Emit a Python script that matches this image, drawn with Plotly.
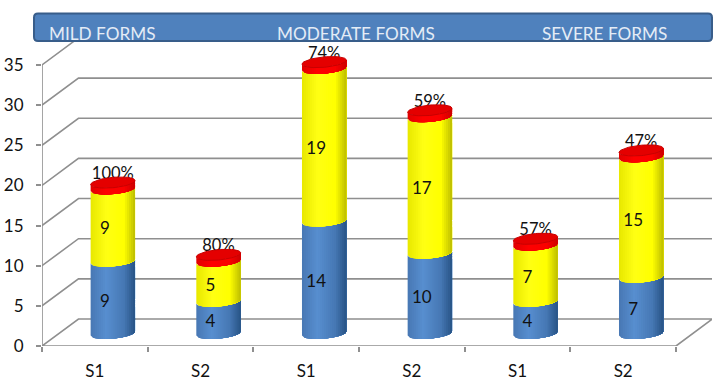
import numpy as np
import plotly.graph_objects as go

categories = ["S1", "S2", "S1", "S2", "S1", "S2"]
blue_values = [9, 4, 14, 10, 4, 7]
yellow_values = [9, 5, 19, 17, 7, 15]
cap_values = [0.8, 0.8, 0.8, 0.8, 0.8, 0.8]
percent_labels = ["100%", "80%", "74%", "59%", "57%", "47%"]
y_ticks = [0, 5, 10, 15, 20, 25, 30, 35]
group_titles = ["MILD FORMS", "MODERATE FORMS", "SEVERE FORMS"]
group_title_px = [102, 356, 604]

W, H = 722, 385
L, R, T, B = 41.5, 712, 38, 346
PX_X = 105.75      # pixels per category
PX_Y = 8.03        # pixels per value unit
xr = [-0.5, -0.5 + (R - L) / PX_X]
yr = [0, (B - T) / PX_Y]
DX = 36.5 / PX_X   # back-wall depth
DY = 27 / PX_Y
BAR_DX = 18 / PX_X
BAR_DY = 12.5 / PX_Y
HW = 22.2 / PX_X
ARC = 5.2 / PX_Y
TILT = 2.0 / PX_Y
GRID = "#8f8f8f"

fig = go.Figure()


def line(xs, ys):
    fig.add_trace(go.Scatter(x=xs, y=ys, mode="lines", line=dict(color=GRID, width=1.6),
                             hoverinfo="skip", showlegend=False, cliponaxis=False))


X0, X1 = -0.5, 5.5
for v in y_ticks:
    if v == 0:
        continue
    line([X0, X0 + DX, xr[1]], [v, v + DY, v + DY])
line([X0, X1, X1 + DX, X0 + DX, X0], [0, 0, DY, DY, 0])
line([X0, X0], [0, 35])

us = np.linspace(-1, 1, 41)


def arc(c, base, u):
    return c + HW * u, base - ARC * np.sqrt(np.clip(1 - u ** 2, 0, 1)) + TILT * u


def mix(a, b, f):
    return tuple(a[i] + (b[i] - a[i]) * f for i in range(3))


def shade(u, edge, mid, light, dark):
    h = -0.3
    if u < h:
        c = mix(edge, light, (u + 1) / (h + 1))
    elif u < 0.5:
        c = mix(light, mid, (u - h) / (0.5 - h))
    else:
        c = mix(mid, dark, (u - 0.5) / 0.5)
    return "rgb(%d,%d,%d)" % c


def cylinder(bottoms, tops, palette, n=22):
    for k in range(n):
        uk = -1 + 2 * k / n
        xs, ys = [], []
        for i in range(len(bottoms)):
            c = i + BAR_DX
            u = us[us >= uk]
            u = np.concatenate([[uk], u])
            x0, y0 = arc(c, bottoms[i] + BAR_DY, u)
            x1, y1 = arc(c, tops[i] + BAR_DY, u[::-1])
            xs += list(x0) + list(x1) + [x0[0], None]
            ys += list(y0) + list(y1) + [y0[0], None]
        fig.add_trace(go.Scatter(x=xs, y=ys, mode="lines", fill="toself",
                                 fillcolor=shade(uk + 1 / n, *palette),
                                 line=dict(width=0), hoverinfo="skip", showlegend=False))


blue = np.array(blue_values, float)
yellow = np.array(yellow_values, float)
cap = np.array(cap_values, float)
zero = np.zeros(6)
total = blue + yellow

# percent labels sit behind the red caps
fig.add_trace(go.Scatter(
    x=np.arange(6) + BAR_DX, y=total + cap + BAR_DY + 7.5 / PX_Y, mode="text",
    text=percent_labels, textfont=dict(family="Lato", size=16.5, color="#111111"),
    hoverinfo="skip", showlegend=False, cliponaxis=False))

cylinder(zero, blue, ((72, 120, 180), (70, 120, 180), (88, 143, 208), (40, 84, 134)))
cylinder(blue, total, ((232, 232, 0), (255, 255, 0), (255, 255, 20), (190, 190, 0)))
cylinder(total, total + cap, ((225, 0, 0), (250, 0, 0), (255, 0, 0), (205, 0, 0)))

# cap top faces
th = np.linspace(0, 2 * np.pi, 61)
xs, ys = [], []
for i in range(6):
    c = i + BAR_DX
    base = total[i] + cap[i] + BAR_DY
    xs += list(c + HW * np.cos(th)) + [None]
    ys += list(base + ARC * np.sin(th) + TILT * np.cos(th)) + [None]
fig.add_trace(go.Scatter(x=xs, y=ys, mode="lines", fill="toself", fillcolor="#e40000",
                         line=dict(width=1, color="#c80000"), hoverinfo="skip", showlegend=False))

# value labels
lab_x = np.arange(6) + BAR_DX - 8 / PX_X
fig.add_trace(go.Scatter(
    x=np.concatenate([lab_x, lab_x]),
    y=np.concatenate([blue / 2, blue + yellow / 2]) + BAR_DY - 5 / PX_Y,
    mode="text", text=[str(v) for v in blue_values + yellow_values],
    textfont=dict(family="Lato", size=17, color="#111111"),
    hoverinfo="skip", showlegend=False))

# banner
def px(x):
    return (x - L) / (R - L)


def py(y):
    return (B - y) / (B - T)


x0, x1, y0, y1, r = 33.5, 712, 13.5, 41, 4
path = (f"M {px(x0 + r)} {py(y0)} L {px(x1 - r)} {py(y0)} Q {px(x1)} {py(y0)} {px(x1)} {py(y0 + r)} "
        f"L {px(x1)} {py(y1 - r)} Q {px(x1)} {py(y1)} {px(x1 - r)} {py(y1)} "
        f"L {px(x0 + r)} {py(y1)} Q {px(x0)} {py(y1)} {px(x0)} {py(y1 - r)} "
        f"L {px(x0)} {py(y0 + r)} Q {px(x0)} {py(y0)} {px(x0 + r)} {py(y0)} Z")
fig.add_shape(type="path", path=path, xref="paper", yref="paper", fillcolor="#4f81bd",
              line=dict(color="#385d8a", width=2), layer="above")
annotations = [dict(x=px(tx), y=py(33), xref="paper", yref="paper", text=t, showarrow=False,
                    font=dict(family="Lato", size=17.2, color="#e4ecf6"), xanchor="center", yanchor="middle")
               for t, tx in zip(group_titles, group_title_px)]

fig.update_layout(
    width=W, height=H, paper_bgcolor="white", plot_bgcolor="white",
    margin=dict(l=L, r=W - R, t=T, b=H - B, autoexpand=False), showlegend=False,
    annotations=annotations,
    xaxis=dict(range=xr, showgrid=False, zeroline=False, showline=False,
               tickmode="array", tickvals=list(range(6)), ticktext=categories, ticks="",
               ticklabelstandoff=13,
               tickfont=dict(family="Lato", size=17, color="#111111"),
               minor=dict(tickmode="array", tickvals=[i - 0.5 for i in range(7)], ticks="outside",
                          ticklen=5, tickcolor=GRID, tickwidth=1.5, showgrid=False),
               fixedrange=True),
    yaxis=dict(range=yr, showgrid=False, zeroline=False, showline=False,
               tickmode="array", tickvals=y_ticks, ticks="outside", ticklen=5, tickcolor=GRID,
               ticklabelstandoff=9,
               tickwidth=1.5, tickfont=dict(family="Lato", size=17, color="#111111"), fixedrange=True),
)
fig.write_html("out.html", config={"displayModeBar": False},
               post_script="document.body.style.margin='0';")
